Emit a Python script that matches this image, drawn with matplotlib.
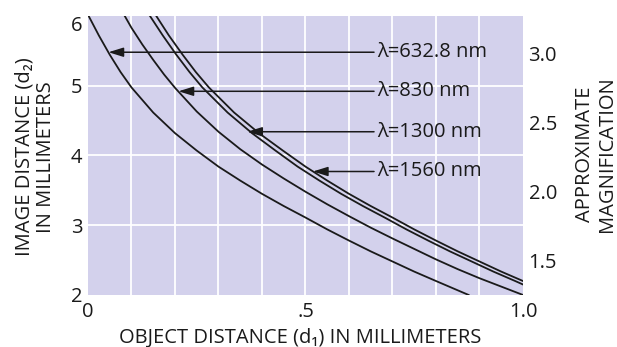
import matplotlib
matplotlib.use("Agg")
import matplotlib.pyplot as plt

plt.rcParams['font.family'] = ['Open Sans', 'DejaVu Sans']

# object distance d1 (mm) and image distance d2 (mm)
x_6328 = [0.0015, 0.025, 0.05, 0.075, 0.1, 0.15, 0.2, 0.25, 0.3, 0.35, 0.4, 0.45,
          0.5, 0.55, 0.6, 0.65, 0.7, 0.75, 0.8, 0.875]
y_6328 = [6.0, 5.72, 5.445, 5.195, 4.975, 4.615, 4.32, 4.07, 3.84, 3.64, 3.45, 3.275,
          3.11, 2.94, 2.78, 2.625, 2.48, 2.335, 2.20, 2.0]

x_830 = [0.0845, 0.1, 0.125, 0.15, 0.175, 0.2, 0.25, 0.3, 0.35, 0.4, 0.45, 0.5,
         0.55, 0.6, 0.65, 0.7, 0.75, 0.8, 0.85, 0.9, 0.95, 1.0]
y_830 = [6.0, 5.83, 5.59, 5.37, 5.16, 4.97, 4.63, 4.34, 4.09, 3.87, 3.67, 3.48,
         3.30, 3.13, 2.965, 2.81, 2.66, 2.51, 2.37, 2.24, 2.12, 2.0]

x_1300 = [0.1425, 0.172, 0.203, 0.2335, 0.263, 0.321, 0.377, 0.431, 0.482, 0.532,
          0.582, 0.632, 0.682, 0.732, 0.782, 0.832, 0.882, 0.932, 0.982, 1.0]
y_1300 = [6.0, 5.72, 5.445, 5.195, 4.975, 4.615, 4.32, 4.07, 3.84, 3.64,
          3.45, 3.275, 3.11, 2.94, 2.78, 2.625, 2.48, 2.335, 2.20, 2.15]

x_1560 = [0.157, 0.186, 0.2175, 0.248, 0.278, 0.336, 0.393, 0.448, 0.5, 0.55,
          0.6, 0.65, 0.7, 0.75, 0.8, 0.85, 0.9, 0.95, 1.0]
y_1560 = [6.0, 5.72, 5.445, 5.195, 4.975, 4.615, 4.32, 4.07, 3.84, 3.64,
          3.45, 3.275, 3.11, 2.94, 2.78, 2.625, 2.48, 2.335, 2.20]

labels = ['λ=632.8 nm', 'λ=830 nm', 'λ=1300 nm', 'λ=1560 nm']
arrow_y = [5.48, 4.92, 4.34, 3.77]
arrow_tip_x = [0.047, 0.208, 0.366, 0.517]
label_x = 0.664

xticks = [0, 0.5, 1.0]
xticklabels = ['0', '.5', '1.0']
yticks = [2, 3, 4, 5, 6]
mag_ticks = [1.5, 2.0, 2.5, 3.0]
mag_ticklabels = ['1.5', '2.0', '2.5', '3.0']

bg = '#d3d1ec'
ink = '#1a1a1a'
fs = 14.5

fig = plt.figure(figsize=(6.17, 3.47), dpi=100)
ax = fig.add_axes([0.1426, 0.150, 0.705, 0.804])
ax.set_facecolor(bg)
ax.set_xlim(0, 1.0)
ax.set_ylim(2, 6)

for v in [i / 10 for i in range(1, 10)]:
    ax.axvline(v, color='white', lw=1.3, zorder=1)
for v in [3, 4, 5]:
    ax.axhline(v, color='white', lw=1.3, zorder=1)

for xs, ys in [(x_6328, y_6328), (x_830, y_830), (x_1300, y_1300), (x_1560, y_1560)]:
    ax.plot(xs, ys, color=ink, lw=1.3, zorder=3, solid_joinstyle='round')

for lab, yy, tx in zip(labels, arrow_y, arrow_tip_x):
    ax.annotate(lab, xy=(tx, yy), xytext=(label_x, yy), va='center', ha='left',
                fontsize=fs, color=ink, zorder=4,
                arrowprops=dict(arrowstyle='-|>,head_length=0.9,head_width=0.28',
                                mutation_scale=10, color=ink, lw=1.1,
                                shrinkA=0, shrinkB=0))

for s in ax.spines.values():
    s.set_visible(False)
ax.set_xticks(xticks)
ax.set_xticklabels(xticklabels)
ax.set_yticks(yticks)
ax.tick_params(length=0, labelsize=fs, colors=ink)
ax.tick_params(axis='x', pad=5)
ax.tick_params(axis='y', pad=4)
ax.get_yticklabels()[-1].set_va('top')
ax.set_xlabel('OBJECT DISTANCE (d₁) IN MILLIMETERS', fontsize=fs, color=ink,
              va='center')
ax.xaxis.set_label_coords(0.487, -0.154)
ax.set_ylabel('IMAGE DISTANCE (d₂)\nIN MILLIMETERS', fontsize=fs, color=ink,
              linespacing=1.1, va='center')
ax.yaxis.set_label_coords(-0.122, 0.495)

ax2 = ax.twinx()
ax2.set_ylim(1.254, 3.275)
ax2.set_yticks(mag_ticks)
ax2.set_yticklabels(mag_ticklabels)
ax2.tick_params(length=0, labelsize=fs, colors=ink, pad=4)
for s in ax2.spines.values():
    s.set_visible(False)
ax2.set_ylabel('APPROXIMATE\nMAGNIFICATION', fontsize=fs, color=ink,
               linespacing=1.1, va='center')
ax2.yaxis.set_label_coords(1.168, 0.505)

fig.savefig('out.png', dpi=100)
